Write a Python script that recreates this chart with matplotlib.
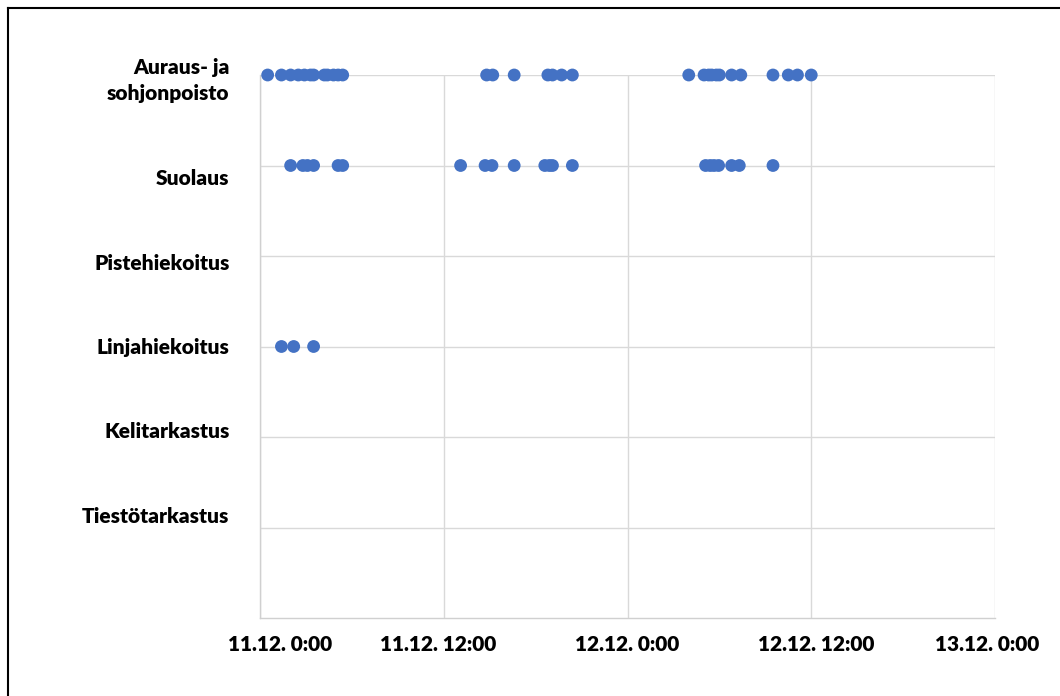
import matplotlib.pyplot as plt
from matplotlib.transforms import ScaledTranslation
from matplotlib.lines import Line2D

plt.rcParams['font.family'] = ['Lato', 'DejaVu Sans']

# tehtävät (ylhäältä alas) ja niiden rivit
tasks = ["Auraus- ja\nsohjonpoisto", "Suolaus", "Pistehiekoitus",
         "Linjahiekoitus", "Kelitarkastus", "Tiestötarkastus"]
task_rows = [6, 5, 4, 3, 2, 1]
label_rows = [5.94, 4.86, 3.92, 2.99, 2.06, 1.12]

# toteumat tunteina alkaen 11.12. 0:00
auraus_h = [0.5, 1.4, 2.0, 2.5, 2.9, 3.3, 3.5, 4.2, 4.4, 4.8, 5.1, 5.4,
            14.8, 15.2, 16.6, 18.8, 19.1, 19.7, 20.4,
            28.0, 29.0, 29.3, 29.5, 29.8, 30.0, 30.8, 31.4, 33.5, 34.5, 35.1, 36.0]
suolaus_h = [2.0, 2.8, 3.1, 3.5, 5.1, 5.4,
             13.1, 14.7, 15.15, 16.6, 18.6, 18.9, 19.1, 20.4,
             29.1, 29.4, 29.65, 29.95, 30.8, 31.3, 33.5]
pistehiekoitus_h = []
linjahiekoitus_h = [1.4, 2.2, 3.5]
kelitarkastus_h = []
tiestotarkastus_h = []
series = [auraus_h, suolaus_h, pistehiekoitus_h, linjahiekoitus_h,
          kelitarkastus_h, tiestotarkastus_h]

x_ticks = [0, 12, 24, 36, 48]
x_labels = ["11.12. 0:00", "11.12. 12:00", "12.12. 0:00", "12.12. 12:00", "13.12. 0:00"]
x_label_shift = [20, -6, 0, 5, -8]  # px

fig = plt.figure(figsize=(10.6, 6.96), dpi=100)
ax = fig.add_axes([260 / 1060, 1 - 618 / 696, 735 / 1060, 543 / 696])

for hours, row in zip(series, task_rows):
    if hours:
        ax.scatter(hours, [row] * len(hours), s=85, color='#4472C4',
                   edgecolors='none', zorder=3, clip_on=False)

ax.set_xlim(0, 48)
ax.set_ylim(0, 6)

ax.set_xticks(x_ticks)
ax.set_xticklabels(x_labels, fontsize=15, fontweight='heavy')
ax.tick_params(axis='x', length=0, pad=12)
for lbl, dx in zip(ax.get_xticklabels(), x_label_shift):
    lbl.set_transform(lbl.get_transform() + ScaledTranslation(dx / 100, 0, fig.dpi_scale_trans))

ax.set_yticks(label_rows)
ax.set_yticklabels(tasks, fontsize=15, fontweight='heavy', linespacing=1.4)
ax.set_yticks(task_rows, minor=True)
ax.tick_params(axis='y', which='both', length=0, pad=22)
for lbl in ax.get_yticklabels():
    lbl.set_verticalalignment('center')

ax.grid(True, axis='x', which='major', color='#d9d9d9', lw=1)
ax.grid(True, axis='y', which='minor', color='#d9d9d9', lw=1)
ax.grid(False, axis='y', which='major')
ax.set_axisbelow(True)

for side in ['top', 'right']:
    ax.spines[side].set_visible(False)
for side in ['left', 'bottom']:
    ax.spines[side].set_color('#d0d0d0')
    ax.spines[side].set_linewidth(1)

# kehys kuvan ylä- ja vasempaan reunaan
fig.add_artist(Line2D([8 / 1060, 8 / 1060], [0, 1 - 8 / 696], color='black', lw=1.5))
fig.add_artist(Line2D([8 / 1060, 1], [1 - 8 / 696, 1 - 8 / 696], color='black', lw=1.5))

fig.savefig('out.png', dpi=100, facecolor='white')
